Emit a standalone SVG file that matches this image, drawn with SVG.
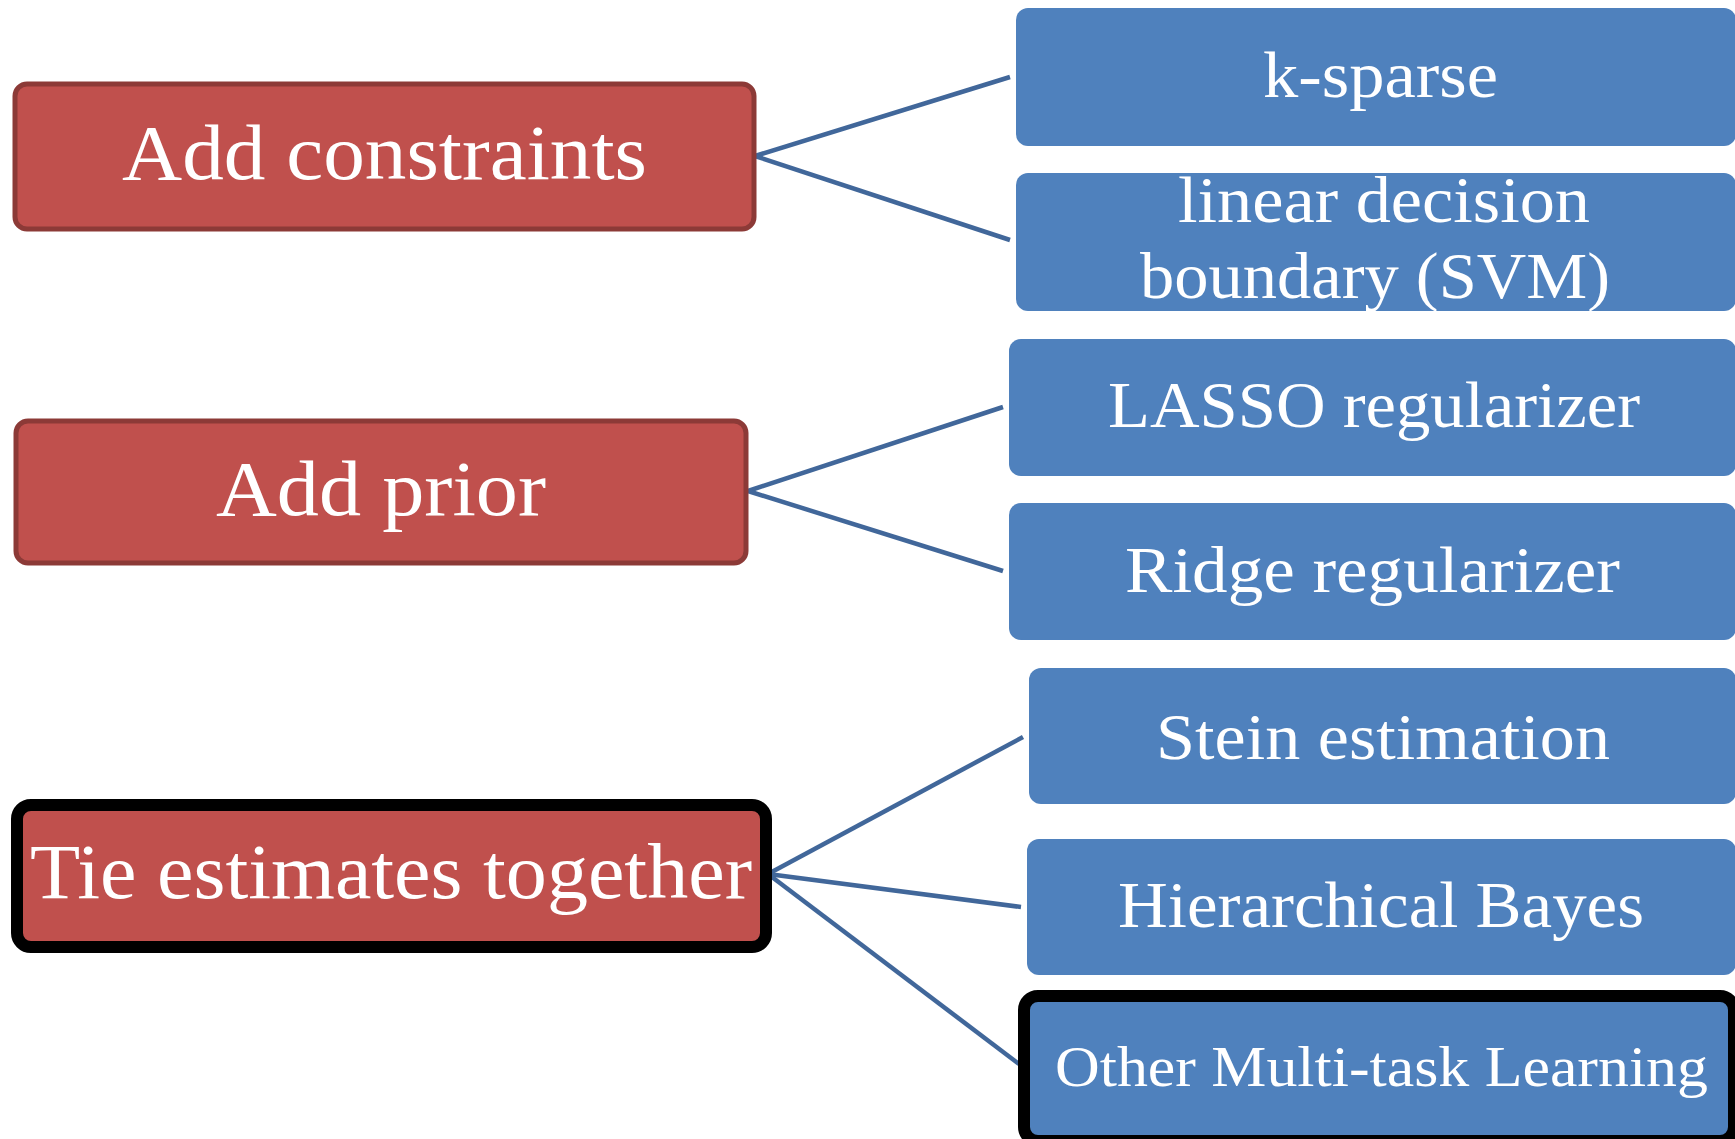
<svg xmlns="http://www.w3.org/2000/svg" width="1735" height="1139" viewBox="0 0 1735 1139">
<style>
.red{fill:#C0504D;stroke:#8C3A37;stroke-width:5}
.redk{fill:#C0504D;stroke:#000;stroke-width:12}
.blue{fill:#4F81BD}
.bluek{fill:#4F81BD;stroke:#000;stroke-width:12}
.t{font-family:"Liberation Serif","Times New Roman",serif;fill:#fff}
.tr{font-size:78px}
.tb{font-size:66px}
.conn line{stroke:#41679A;stroke-width:4.5;stroke-linecap:butt}
</style>
<rect width="1735" height="1139" fill="#fff"/>
<g class="conn" id="connectors">
<line x1="755" y1="156" x2="1010" y2="77"/>
<line x1="755" y1="156" x2="1010" y2="240"/>
<line x1="748" y1="491" x2="1003" y2="407"/>
<line x1="748" y1="491" x2="1003" y2="571"/>
<line x1="768" y1="874" x2="1023" y2="737"/>
<line x1="768" y1="874" x2="1021" y2="907"/>
<line x1="768" y1="874" x2="1019" y2="1064"/>
</g>
<g id="n-add-constraints">
<rect class="red" x="15" y="84" width="739" height="145" rx="12"/>
<text class="t tr" x="122" y="179" textLength="525" lengthAdjust="spacingAndGlyphs">Add constraints</text>
</g>
<g id="n-add-prior">
<rect class="red" x="16" y="421" width="730" height="142" rx="12"/>
<text class="t tr" x="216" y="515" textLength="330" lengthAdjust="spacingAndGlyphs">Add prior</text>
</g>
<g id="n-tie">
<rect class="redk" x="17" y="805" width="749" height="142" rx="14"/>
<text class="t tr" x="30" y="898" textLength="722" lengthAdjust="spacingAndGlyphs">Tie estimates together</text>
</g>
<g id="n-ksparse">
<rect class="blue" x="1016" y="8" width="720" height="138" rx="12"/>
<text class="t tb" x="1263" y="97" textLength="235" lengthAdjust="spacingAndGlyphs">k-sparse</text>
</g>
<g id="n-linear">
<rect class="blue" x="1016" y="173" width="720" height="138" rx="12"/>
<text class="t tb" x="1178" y="222" textLength="412" lengthAdjust="spacingAndGlyphs">linear decision</text>
<text class="t tb" x="1140" y="298" textLength="470" lengthAdjust="spacingAndGlyphs">boundary (SVM)</text>
</g>
<g id="n-lasso">
<rect class="blue" x="1009" y="339" width="727" height="137" rx="12"/>
<text class="t tb" x="1108" y="427" textLength="532" lengthAdjust="spacingAndGlyphs">LASSO regularizer</text>
</g>
<g id="n-ridge">
<rect class="blue" x="1009" y="503" width="727" height="137" rx="12"/>
<text class="t tb" x="1125" y="592" textLength="495" lengthAdjust="spacingAndGlyphs">Ridge regularizer</text>
</g>
<g id="n-stein">
<rect class="blue" x="1029" y="668" width="707" height="136" rx="12"/>
<text class="t tb" x="1156" y="759" textLength="454" lengthAdjust="spacingAndGlyphs">Stein estimation</text>
</g>
<g id="n-hier">
<rect class="blue" x="1027" y="839" width="709" height="136" rx="12"/>
<text class="t tb" x="1118" y="927" textLength="526" lengthAdjust="spacingAndGlyphs">Hierarchical Bayes</text>
</g>
<g id="n-other">
<rect class="bluek" x="1024" y="996" width="710" height="145" rx="14"/>
<text class="t" style="font-size:57px" x="1055" y="1086" textLength="653" lengthAdjust="spacingAndGlyphs">Other Multi-task Learning</text>
</g>
</svg>
